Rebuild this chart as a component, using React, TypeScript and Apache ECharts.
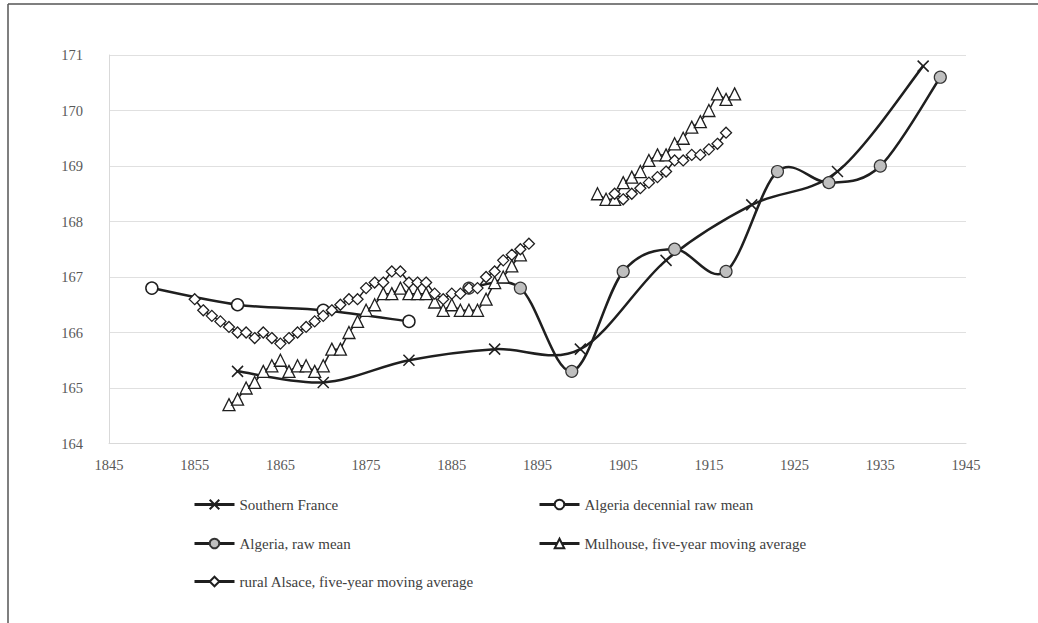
import React, { useEffect, useRef } from "react";
import * as echarts from "echarts";

// ---- Data ----
const southFranceYears = [1860, 1870, 1880, 1890, 1900, 1910, 1920, 1930, 1940];
const southFranceValues = [165.3, 165.1, 165.5, 165.7, 165.7, 167.3, 168.3, 168.9, 170.8];

const algeriaDecYears = [1850, 1860, 1870, 1880];
const algeriaDecValues = [166.8, 166.5, 166.4, 166.2];

const algeriaRawYears = [1887, 1893, 1899, 1905, 1911, 1917, 1923, 1929, 1935, 1942];
const algeriaRawValues = [166.8, 166.8, 165.3, 167.1, 167.5, 167.1, 168.9, 168.7, 169.0, 170.6];

const mulhouseYears1 = [
  1859, 1860, 1861, 1862, 1863, 1864, 1865, 1866, 1867, 1868, 1869, 1870, 1871, 1872, 1873, 1874, 1875,
  1876, 1877, 1878, 1879, 1880, 1881, 1882, 1883, 1884, 1885, 1886, 1887, 1888, 1889, 1890, 1891, 1892, 1893,
];
const mulhouseValues1 = [
  164.7, 164.8, 165.0, 165.1, 165.3, 165.4, 165.5, 165.3, 165.4, 165.4, 165.3, 165.4, 165.7, 165.7, 166.0,
  166.2, 166.4, 166.5, 166.7, 166.7, 166.8, 166.7, 166.7, 166.7, 166.55, 166.4, 166.5, 166.4, 166.4, 166.4,
  166.6, 166.9, 167.0, 167.2, 167.4,
];
const mulhouseYears2 = [1902, 1903, 1904, 1905, 1906, 1907, 1908, 1909, 1910, 1911, 1912, 1913, 1914, 1915, 1916, 1917, 1918];
const mulhouseValues2 = [168.5, 168.4, 168.4, 168.7, 168.8, 168.9, 169.1, 169.2, 169.2, 169.4, 169.5, 169.7, 169.8, 170.0, 170.3, 170.2, 170.3];

const alsaceYears1 = [
  1855, 1856, 1857, 1858, 1859, 1860, 1861, 1862, 1863, 1864, 1865, 1866, 1867, 1868, 1869, 1870, 1871,
  1872, 1873, 1874, 1875, 1876, 1877, 1878, 1879, 1880, 1881, 1882, 1883, 1884, 1885, 1886, 1887, 1888,
  1889, 1890, 1891, 1892, 1893, 1894,
];
const alsaceValues1 = [
  166.6, 166.4, 166.3, 166.2, 166.1, 166.0, 166.0, 165.9, 166.0, 165.9, 165.8, 165.9, 166.0, 166.1, 166.2,
  166.3, 166.4, 166.5, 166.6, 166.6, 166.8, 166.9, 166.9, 167.1, 167.1, 166.9, 166.9, 166.9, 166.7, 166.6,
  166.7, 166.7, 166.8, 166.8, 167.0, 167.1, 167.3, 167.4, 167.5, 167.6,
];
const alsaceYears2 = [1904, 1905, 1906, 1907, 1908, 1909, 1910, 1911, 1912, 1913, 1914, 1915, 1916, 1917];
const alsaceValues2 = [168.5, 168.4, 168.5, 168.6, 168.7, 168.8, 168.9, 169.1, 169.1, 169.2, 169.2, 169.3, 169.4, 169.6];

const seriesNames = [
  "Southern France",
  "Algeria decennial raw mean",
  "Algeria, raw mean",
  "Mulhouse, five-year moving average",
  "rural Alsace, five-year moving average",
];

const xTicks = { min: 1845, max: 1945, interval: 10 };
const yTicks = { min: 164, max: 171, interval: 1 };

// ---- helpers ----
const zip = (xs: number[], ys: number[]) => xs.map((x, i) => [x, ys[i]]);
const withGap = (a: (number | null)[][], b: (number | null)[][]) => {
  const gapX = ((a[a.length - 1][0] as number) + (b[0][0] as number)) / 2;
  return [...a, [gapX, null], ...b];
};

const FONT = "'Liberation Serif', 'Times New Roman', serif";
const INK = "#1f1f1f";
const X_SYMBOL = "path://M0,0L10,10M10,0L0,10";

// Smooth (Catmull-Rom style) curve drawn through the axis scales via a custom series
function smoothCurve(id: string, xs: number[], ys: number[], width: number) {
  const n = xs.length;
  return {
    id,
    type: "custom",
    silent: true,
    z: 2,
    data: zip(xs, ys),
    encode: { x: 0, y: 1 },
    renderItem: (params: any, api: any) => {
      const i = params.dataIndex;
      if (i >= n - 1) return null;
      const c = (k: number) => {
        const j = Math.max(0, Math.min(n - 1, k));
        return api.coord([xs[j], ys[j]]);
      };
      const p0 = c(i - 1);
      const p1 = c(i);
      const p2 = c(i + 1);
      const p3 = c(i + 2);
      const t = 1 / 6;
      return {
        type: "bezierCurve",
        shape: {
          x1: p1[0],
          y1: p1[1],
          x2: p2[0],
          y2: p2[1],
          cpx1: p1[0] + (p2[0] - p0[0]) * t,
          cpy1: p1[1] + (p2[1] - p0[1]) * t,
          cpx2: p2[0] - (p3[0] - p1[0]) * t,
          cpy2: p2[1] - (p3[1] - p1[1]) * t,
        },
        style: { stroke: INK, lineWidth: width, fill: null, lineCap: "round" },
      };
    },
  };
}

export default function App() {
  const ref = useRef<HTMLDivElement>(null);

  useEffect(() => {
    if (!ref.current) return;
    const chart = echarts.init(ref.current, null, { renderer: "svg" });

    const legendBase = {
      orient: "horizontal",
      padding: 0,
      itemWidth: 40,
      itemHeight: 12,
      textStyle: { fontFamily: FONT, fontSize: 15, color: "#404040" },
      lineStyle: { width: 3, color: INK, opacity: 1 },
    };

    const option: any = {
      animation: false,
      backgroundColor: "#ffffff",
      grid: { left: 109, right: 72, top: 55, bottom: 179.5, containLabel: false },
      xAxis: {
        type: "value",
        min: xTicks.min,
        max: xTicks.max,
        interval: xTicks.interval,
        axisLine: { show: true, lineStyle: { color: "#d9d9d9", width: 1 } },
        axisTick: { show: false },
        splitLine: { show: false },
        axisLabel: {
          fontFamily: FONT,
          fontSize: 14.5,
          color: "#595959",
          margin: 14,
          formatter: (v: number) => String(v),
        },
      },
      yAxis: {
        type: "value",
        min: yTicks.min,
        max: yTicks.max,
        interval: yTicks.interval,
        axisLine: { show: true, lineStyle: { color: "#d9d9d9", width: 1 } },
        axisTick: { show: false },
        splitLine: { show: true, lineStyle: { color: "#e0e0e0", width: 1 } },
        axisLabel: { fontFamily: FONT, fontSize: 14.5, color: "#595959", margin: 26 },
      },
      legend: [
        { ...legendBase, data: [seriesNames[0]], left: 193, top: 497 },
        { ...legendBase, data: [seriesNames[1]], left: 538, top: 497 },
        { ...legendBase, data: [seriesNames[2]], left: 193, top: 536 },
        { ...legendBase, data: [seriesNames[3]], left: 538, top: 536 },
        { ...legendBase, data: [seriesNames[4]], left: 193, top: 574 },
      ],
      graphic: [
        { type: "line", shape: { x1: 8, y1: 4, x2: 1038, y2: 4 }, style: { stroke: "#555", lineWidth: 1.5 } },
        { type: "line", shape: { x1: 8, y1: 4, x2: 8, y2: 623 }, style: { stroke: "#555", lineWidth: 1.5 } },
      ],
      series: [
        smoothCurve("sfCurve", southFranceYears, southFranceValues, 2.5),
        smoothCurve("adCurve", algeriaDecYears, algeriaDecValues, 2.5),
        smoothCurve("arCurve", algeriaRawYears, algeriaRawValues, 2.5),
        {
          name: seriesNames[0],
          type: "line",
          data: zip(southFranceYears, southFranceValues),
          symbol: X_SYMBOL,
          symbolSize: 11,
          showAllSymbol: true,
          lineStyle: { color: INK, width: 0, opacity: 0 },
          itemStyle: { color: INK, borderColor: INK, borderWidth: 1.5 },
          z: 3,
        },
        {
          name: seriesNames[1],
          type: "line",
          data: zip(algeriaDecYears, algeriaDecValues),
          symbol: "circle",
          symbolSize: 12,
          showAllSymbol: true,
          lineStyle: { color: INK, width: 0, opacity: 0 },
          itemStyle: { color: "#ffffff", borderColor: INK, borderWidth: 1.5 },
          z: 3,
        },
        {
          name: seriesNames[2],
          type: "line",
          data: zip(algeriaRawYears, algeriaRawValues),
          symbol: "circle",
          symbolSize: 12,
          showAllSymbol: true,
          lineStyle: { color: INK, width: 0, opacity: 0 },
          itemStyle: { color: "#bfbfbf", borderColor: "#333", borderWidth: 1.2 },
          z: 3,
        },
        {
          name: seriesNames[3],
          type: "line",
          connectNulls: false,
          data: withGap(zip(mulhouseYears1, mulhouseValues1), zip(mulhouseYears2, mulhouseValues2)),
          symbol: "triangle",
          symbolSize: 12,
          showAllSymbol: true,
          lineStyle: { color: INK, width: 1.5 },
          itemStyle: { color: "#ffffff", borderColor: INK, borderWidth: 1.3 },
          z: 4,
        },
        {
          name: seriesNames[4],
          type: "line",
          connectNulls: false,
          data: withGap(zip(alsaceYears1, alsaceValues1), zip(alsaceYears2, alsaceValues2)),
          symbol: "diamond",
          symbolSize: 11,
          showAllSymbol: true,
          lineStyle: { color: INK, width: 1.5 },
          itemStyle: { color: "#ffffff", borderColor: INK, borderWidth: 1.3 },
          z: 4,
        },
      ],
    };

    chart.setOption(option);
    return () => chart.dispose();
  }, []);

  return (
    <div
      ref={ref}
      style={{ position: "fixed", left: 0, top: 0, width: 1038, height: 623, background: "#fff" }}
    />
  );
}
